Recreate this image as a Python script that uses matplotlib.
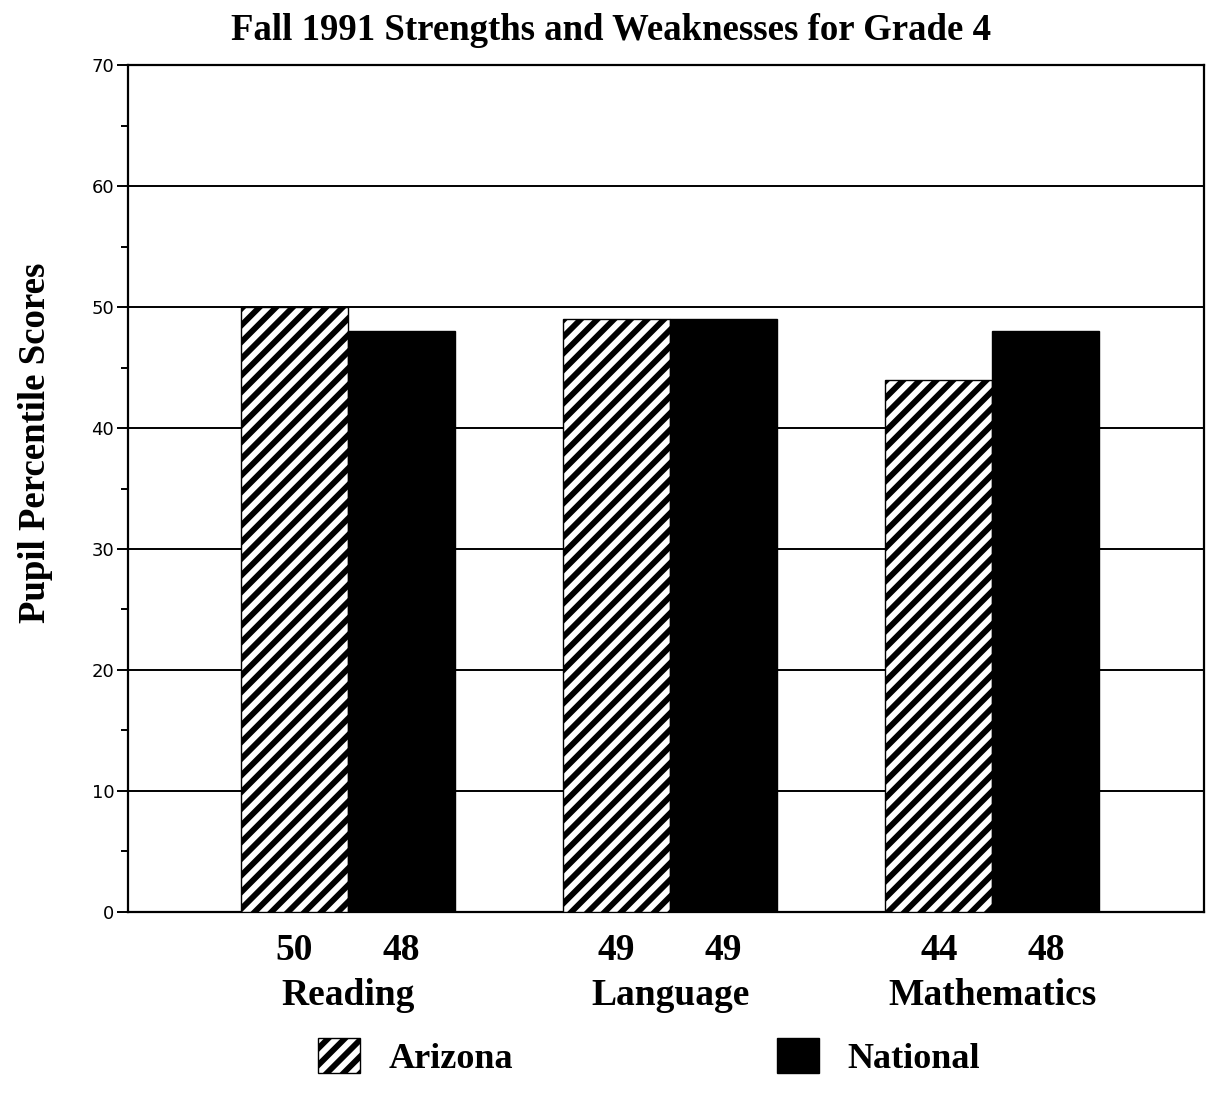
import matplotlib

matplotlib.use("Agg")
import matplotlib.pyplot as plt
import numpy as np
from matplotlib.patches import Patch
from matplotlib.ticker import MultipleLocator

subjects = ["Reading", "Language", "Mathematics"]
arizona = [50, 49, 44]
national = [48, 49, 48]
series_names = ["Arizona", "National"]

plt.rcParams["hatch.linewidth"] = 4.2
serif = "Liberation Serif"

fig = plt.figure(figsize=(12.09, 10.98), dpi=100)
ax = fig.add_axes([0.1059, 0.1694, 0.89, 0.7714])

x = np.arange(len(subjects))
w = 0.332
ax.bar(x - w / 2, arizona, w, color="white", edgecolor="black", hatch="//", linewidth=1.0, zorder=3)
ax.bar(x + w / 2, national, w, color="black", edgecolor="black", linewidth=1.0, zorder=3)

ax.set_xlim(-0.682, 2.657)
ax.set_ylim(0, 70)
ax.yaxis.set_major_locator(MultipleLocator(10))
ax.yaxis.set_minor_locator(MultipleLocator(5))
ax.yaxis.grid(True, color="black", linewidth=1.4, zorder=1)
ax.set_xticks([])
ax.tick_params(axis="y", which="major", direction="out", length=8, width=1.4, labelsize=13, pad=2)
ax.tick_params(axis="y", which="minor", direction="out", length=5, width=1.4)
for s in ax.spines.values():
    s.set_linewidth(1.6)

# values and subject names under the bars
for i in range(len(subjects)):
    ax.text(x[i] - w / 2, -0.045, str(arizona[i]), transform=ax.get_xaxis_transform(),
            ha="center", va="center", fontsize=27, fontweight="bold", family=serif)
    ax.text(x[i] + w / 2, -0.045, str(national[i]), transform=ax.get_xaxis_transform(),
            ha="center", va="center", fontsize=27, fontweight="bold", family=serif)
    ax.text(x[i], -0.098, subjects[i], transform=ax.get_xaxis_transform(),
            ha="center", va="center", fontsize=27, fontweight="bold", family=serif)

fig.text(0.505, 0.972, "Fall 1991 Strengths and Weaknesses for Grade 4", ha="center", va="center",
         fontsize=26.5, fontweight="bold", family=serif)
fig.text(0.029, 0.597, "Pupil Percentile Scores", rotation=90, ha="center", va="center",
         fontsize=26.5, fontweight="bold", family=serif)

handles = [
    Patch(facecolor="white", edgecolor="black", hatch="//", linewidth=1.0),
    Patch(facecolor="black", edgecolor="black"),
]
fig.legend(handles, series_names, loc="center left", bbox_to_anchor=(0.2485, 0.0373), ncol=2, frameon=False,
           prop={"family": serif, "weight": "bold", "size": 26},
           handlelength=1.15, handleheight=1.1, handletextpad=0.8, columnspacing=7.3, borderpad=0)

fig.savefig("out.png", dpi=100, facecolor="white")
